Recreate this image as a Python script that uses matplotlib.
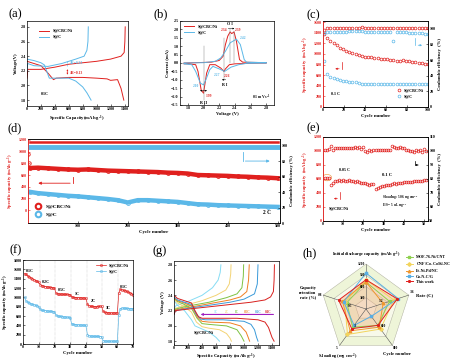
import matplotlib
matplotlib.use("Agg")
import matplotlib.pyplot as plt
import numpy as np
from matplotlib.patches import Ellipse, Polygon

# ===== data
# (a) charge/discharge profiles at 0.1 C
a_red_dis_x = [0, 100, 200, 300, 380, 420, 600, 800, 1000, 1150, 1200, 1300, 1350, 1390]
a_red_dis_y = [2.33, 2.3, 2.27, 2.17, 2.08, 2.1, 2.11, 2.11, 2.1, 2.09, 2.07, 2.08, 1.96, 1.8]
a_red_chg_x = [0, 10, 200, 400, 600, 800, 1000, 1200, 1350, 1395, 1405, 1410]
a_red_chg_y = [2.1, 2.22, 2.22, 2.25, 2.29, 2.31, 2.33, 2.36, 2.4, 2.45, 2.6, 2.8]
a_blue_dis_x = [0, 100, 200, 250, 320, 400, 600, 700, 800, 860, 920]
a_blue_dis_y = [2.36, 2.34, 2.31, 2.28, 2.1, 2.1, 2.1, 2.06, 1.98, 1.9, 1.8]
a_blue_chg_x = [0, 10, 100, 300, 500, 700, 820, 860, 875, 880]
a_blue_chg_y = [2.2, 2.3, 2.27, 2.26, 2.3, 2.36, 2.4, 2.48, 2.6, 2.8]

# (b) CV curves
b_red_v = [2.8, 2.6, 2.4, 2.33, 2.28, 2.26, 2.22, 2.15, 2.08, 2.04, 2.0, 1.97, 1.93, 1.9, 1.8, 1.75,
           1.75, 1.9, 2.1, 2.2, 2.25, 2.28, 2.31, 2.34, 2.36, 2.39, 2.42, 2.46, 2.5, 2.8]
b_red_i = [0.0, -0.02, -0.05, -0.1, -0.35, -0.5, -0.3, -0.1, -0.1, -0.6, -1.8, -1.6, -0.5, -0.1, -0.05, -0.05,
           0.0, 0.02, 0.05, 0.15, 0.4, 1.1, 1.6, 1.85, 1.75, 1.85, 1.3, 0.2, 0.05, 0.02]
b_blue_v = [2.8, 2.55, 2.45, 2.35, 2.27, 2.2, 2.12, 2.08, 2.03, 2.0, 1.96, 1.9, 1.85, 1.75,
            1.75, 2.0, 2.15, 2.22, 2.28, 2.34, 2.42, 2.47, 2.52, 2.55, 2.8]
b_blue_i = [0.0, -0.02, -0.1, -0.25, -0.5, -0.35, -0.2, -0.4, -1.0, -1.3, -1.2, -0.5, -0.1, -0.05,
            0.0, 0.02, 0.1, 0.3, 0.7, 1.2, 1.42, 1.1, 0.2, 0.05, 0.02]

# (c) cycling at 0.1 C
c_cycles = [1, 4, 7, 10, 13, 16, 19, 22, 25, 28, 31, 34, 37, 40, 43, 46, 49, 52, 55, 58, 61, 64, 67,
            70, 73, 76, 79, 82, 85, 88, 91, 94, 97, 100]
c_red_cap = [1380, 1300, 1250, 1200, 1160, 1120, 1090, 1060, 1040, 1010, 990, 975, 960, 950, 945, 935,
             925, 920, 910, 905, 895, 885, 880, 875, 870, 880, 875, 865, 855, 845, 835, 825, 815, 805]
c_blue_cap = [870, 620, 570, 540, 520, 500, 490, 485, 480, 475, 470, 455, 430, 425, 425, 425, 430, 430,
              430, 430, 430, 432, 432, 432, 430, 432, 432, 432, 430, 430, 430, 430, 430, 430]
c_red_ce = [99, 101, 101, 101.5, 101, 101, 101.5, 101, 101, 101, 101, 101.5, 102, 101, 101, 101, 101,
            101, 101, 101, 101, 101, 101, 101, 101, 101, 101, 101, 101, 101, 101, 101, 101, 101]
c_blue_ce = [95, 96, 96.5, 96.5, 96.5, 96.5, 96.5, 96.5, 97, 97, 97, 97, 97, 96.5, 96.5, 96.5, 96.5,
             96, 96, 96, 96, 96, 84, 96, 96, 95.5, 95.5, 95, 95, 95, 94.5, 94.5, 94, 94]

# (d) long cycling at 2 C
d_cycles = [5, 20, 40, 60, 80, 100, 120, 140, 160, 180, 200, 220, 240, 260, 280, 300, 320, 340, 360,
            380, 400, 420, 440, 460, 480, 500]
d_red_cap = [720, 725, 715, 705, 695, 690, 695, 685, 675, 670, 665, 660, 655, 650, 640, 635, 625, 600,
             595, 590, 585, 575, 570, 560, 555, 545]
d_blue_cap = [310, 290, 275, 260, 245, 235, 220, 205, 190, 170, 130, 170, 170, 160, 150, 140, 120, 100,
              95, 85, 80, 75, 70, 65, 60, 55]
d_red_ce = [104.5] * 26
d_blue_ce = [98.5] * 26
d_first_cycles = [1, 2]
d_first_cap = [960, 800]

# (e) high loading cycling
e_cycles = list(range(1, 52))
e_cap = [620, 615, 612, 520, 550, 570, 575, 580, 575, 580, 578, 575, 580, 570, 575, 560, 565, 555, 545,
         550, 540, 530, 520, 525, 530, 460, 470, 490, 495, 500, 510, 515, 520, 530, 540, 535, 540, 545,
         550, 555, 560, 560, 555, 560, 565, 570, 570, 575, 575, 580, 580]
e_ce = [101, 101, 101.5, 103.5, 101, 102, 102, 102, 102.5, 102, 102.5, 102, 102, 102.5, 102, 103, 102,
        103, 101.5, 103, 100, 99, 101, 100, 101, 101, 100.5, 101, 100.5, 101, 101, 101, 101, 103.5, 103,
        102, 102.5, 103, 102.5, 102, 101, 101, 100, 100, 99.5, 101, 100, 101, 99, 101.5, 100]

# (f) rate performance
f_cycles = list(range(1, 71))
f_red = [1510, 1490, 1460, 1440, 1420, 1400, 1380, 1360, 1340, 1320,
         1270, 1250, 1240, 1230, 1225, 1220, 1215, 1210, 1205, 1200,
         1090, 1075, 1070, 1070, 1068, 1065, 1065, 1063, 1060, 1060,
         1010, 1000, 995, 995, 990, 990, 988, 985, 985, 980,
         850, 820, 810, 805, 800, 800, 800, 805, 810, 810,
         700, 680, 670, 670, 665, 665, 665, 665, 665, 665,
         1100, 1170, 1160, 1150, 1140, 1130, 1110, 1100, 1080, 1060]
f_blue = [1000, 920, 900, 880, 860, 850, 840, 830, 820, 800,
          740, 720, 720, 715, 710, 705, 700, 700, 695, 690,
          620, 600, 595, 590, 585, 580, 578, 575, 570, 565,
          430, 420, 415, 412, 410, 408, 405, 405, 402, 400,
          200, 175, 170, 168, 165, 165, 163, 162, 160, 160,
          70, 65, 62, 60, 60, 60, 60, 60, 60, 60,
          620, 760, 770, 770, 765, 765, 760, 760, 760, 755]
f_rate_labels = ["0.1C", "0.2C", "0.5C", "1C", "2C", "3C", "0.1C"]

# (g) profiles at different rates
g_rates = ["3C", "2C", "1C", "0.5C", "0.2C", "0.1C"]
g_dis_x = [[0, 50, 150, 250, 300, 400, 500, 600, 650],
           [0, 50, 150, 250, 320, 400, 500, 650, 750, 800, 820],
           [0, 50, 150, 250, 330, 400, 500, 750, 900, 960, 1000],
           [0, 50, 150, 250, 330, 400, 500, 800, 950, 1030, 1060, 1080],
           [0, 50, 150, 250, 320, 380, 450, 700, 1000, 1100, 1150, 1180, 1200],
           [0, 50, 150, 250, 300, 350, 400, 600, 900, 1200, 1300, 1350, 1400, 1430]]
g_dis_y = [[2.33, 2.27, 2.2, 2.08, 2.0, 1.96, 1.92, 1.85, 1.8],
           [2.35, 2.3, 2.25, 2.18, 2.05, 1.99, 1.97, 1.95, 1.9, 1.84, 1.8],
           [2.36, 2.32, 2.28, 2.23, 2.1, 2.03, 2.02, 2.0, 1.95, 1.87, 1.8],
           [2.37, 2.33, 2.3, 2.26, 2.12, 2.06, 2.05, 2.04, 2.0, 1.92, 1.85, 1.8],
           [2.38, 2.34, 2.31, 2.28, 2.15, 2.09, 2.08, 2.08, 2.06, 2.02, 1.95, 1.85, 1.8],
           [2.4, 2.36, 2.33, 2.3, 2.2, 2.12, 2.1, 2.1, 2.1, 2.08, 2.05, 1.98, 1.85, 1.8]]
g_chg_x = [[0, 20, 200, 400, 550, 630, 660, 670],
           [0, 20, 200, 400, 600, 740, 790, 810, 815],
           [0, 20, 200, 500, 750, 900, 970, 990, 995],
           [0, 20, 200, 500, 800, 950, 1040, 1065, 1075],
           [0, 20, 200, 500, 800, 1000, 1150, 1190, 1200],
           [0, 20, 200, 500, 800, 1100, 1300, 1380, 1420, 1430, 1435]]
g_chg_y = [[2.2, 2.26, 2.32, 2.4, 2.5, 2.6, 2.7, 2.8],
           [2.18, 2.23, 2.28, 2.33, 2.4, 2.47, 2.55, 2.68, 2.8],
           [2.17, 2.22, 2.26, 2.31, 2.37, 2.42, 2.5, 2.65, 2.8],
           [2.16, 2.21, 2.24, 2.29, 2.34, 2.38, 2.45, 2.6, 2.8],
           [2.15, 2.2, 2.23, 2.27, 2.31, 2.35, 2.42, 2.55, 2.8],
           [2.15, 2.2, 2.22, 2.25, 2.28, 2.31, 2.34, 2.38, 2.45, 2.6, 2.8]]

# (h) radar comparison (values scaled to the outer ring)
h_axes_names = ["Initial discharge capacity (mAh g$^{-1}$)", "Rate (C)", "Cycle number",
                "S-loading (mg cm$^{-2}$)", "Capacity\nretention\nrate (%)"]
h_names = ["MOF-76-Ni/CNT", "CNF/Co-Co$_3$S$_4$-NC", "Fe-Ni-Pd/NC", "Co-N-C/G", "This work"]
h_values = [[0.6, 0.55, 0.45, 0.5, 0.45],
            [0.65, 0.65, 0.55, 0.7, 0.5],
            [0.6, 0.4, 0.5, 0.6, 0.55],
            [0.8, 0.75, 0.2, 0.45, 0.52],
            [0.65, 0.73, 0.45, 0.54, 0.64]]

RED = "#e0201e"
BLUE = "#5bb8e8"
W, H = 454, 364

plt.rcParams["font.family"] = ["Liberation Serif", "DejaVu Serif"]
plt.rcParams["font.weight"] = "bold"
plt.rcParams["axes.labelweight"] = "bold"
plt.rcParams["mathtext.fontset"] = "custom"
plt.rcParams["mathtext.rm"] = "Liberation Serif:bold"
plt.rcParams["mathtext.bf"] = "Liberation Serif:bold"
plt.rcParams["mathtext.it"] = "Liberation Serif:italic:bold"
plt.rcParams["axes.linewidth"] = 0.5

fig = plt.figure(figsize=(W / 100, H / 100), dpi=100)


def px_axes(x0, y0, x1, y1):
    return fig.add_axes([x0 / W, 1 - y1 / H, (x1 - x0) / W, (y1 - y0) / H])


def style(ax, color=None):
    ax.tick_params(direction="in", length=1.5, width=0.4, labelsize=3, pad=1)
    if color:
        ax.tick_params(axis="y", colors=color)
        ax.spines["left"].set_color(color)


def panel(label, x, y):
    fig.text(x / W, 1 - y / H, label, fontsize=9, fontweight="normal", ha="center", va="center")


# ===== (a)
ax = px_axes(27, 21, 128, 106)
ax.plot(a_red_dis_x, a_red_dis_y, color=RED, lw=0.7, label="S@CBC/Ni")
ax.plot(a_red_chg_x, a_red_chg_y, color=RED, lw=0.7)
ax.plot(a_blue_dis_x, a_blue_dis_y, color=BLUE, lw=0.7, label="S@C")
ax.plot(a_blue_chg_x, a_blue_chg_y, color=BLUE, lw=0.7)
ax.annotate("", xy=(580, 2.11), xytext=(580, 2.26),
            arrowprops=dict(arrowstyle="<|-|>", color=RED, lw=0.4, mutation_scale=2))
ax.plot([570, 570], [2.26, 2.33], color=BLUE, lw=0.4, ls="--")
ax.text(610, 2.17, "ΔE=0.13", color=RED, fontsize=2.6, va="center")
ax.text(610, 2.31, "ΔE=0.23", color=BLUE, fontsize=2.6, va="center")
ax.text(200, 1.87, "0.1C", fontsize=3)
ax.set_xlim(0, 1450)
ax.set_ylim(1.72, 2.88)
ax.set_xticks([0, 200, 400, 600, 800, 1000, 1200, 1400])
ax.set_yticks([1.8, 2.0, 2.2, 2.4, 2.6, 2.8])
ax.set_xlabel("Specific Capacity(mAh g$^{-1}$)", fontsize=3.3, labelpad=1.5)
ax.set_ylabel("Voltage(V)", fontsize=3.3, labelpad=1.5)
ax.legend(loc="upper left", fontsize=3, frameon=False, handlelength=2.5, bbox_to_anchor=(0.08, 0.95))
style(ax)
panel("(a)", 15, 14)

# ===== (b)
ax = px_axes(180, 21, 274, 105)
ax.plot(b_red_v, b_red_i, color=RED, lw=0.7, label="S@CBC/Ni")
ax.plot(b_blue_v, b_blue_i, color=BLUE, lw=0.7, label="S@C")
for xv, y0, y1 in [(2.34, 0, 2.0), (2.39, 0, 1.9), (2.0, -2.2, 1.0), (2.26, -1.0, 1.5)]:
    ax.plot([xv, xv], [y0, y1], color="#888888", lw=0.35)
ax.annotate("", xy=(2.43, 2.05), xytext=(2.28, 2.05),
            arrowprops=dict(arrowstyle="-|>", color="k", lw=0.35, mutation_scale=2))
ax.annotate("", xy=(2.2, -1.0), xytext=(2.32, -1.0),
            arrowprops=dict(arrowstyle="-|>", color="k", lw=0.35, mutation_scale=2))
ax.annotate("", xy=(1.92, -1.65), xytext=(2.08, -1.65),
            arrowprops=dict(arrowstyle="<|-|>", color="k", lw=0.35, mutation_scale=2))
ax.text(2.34, 2.25, "O I", fontsize=3, ha="center")
ax.text(2.31, 1.88, "2.34", fontsize=2.6, color=RED, ha="right")
ax.text(2.4, 1.88, "2.39", fontsize=2.6, color=RED)
ax.text(2.47, 1.45, "2.42", fontsize=2.6, color=BLUE)
ax.text(2.27, -1.35, "R I", fontsize=3, ha="center")
ax.text(2.22, -0.75, "2.27", fontsize=2.6, color=BLUE, ha="right")
ax.text(2.26, -0.85, "2.26", fontsize=2.6, color=RED)
ax.text(2.0, -2.42, "R II", fontsize=3, ha="center")
ax.text(1.94, -1.45, "2.00", fontsize=2.6, color=BLUE, ha="right")
ax.text(2.03, -2.05, "1.99", fontsize=2.6, color=RED)
ax.text(2.86, -2.15, "0.1 mV s$^{-1}$", fontsize=2.8, ha="right")
ax.set_xlim(1.7, 2.9)
ax.set_ylim(-2.5, 2.5)
ax.set_xticks([1.8, 2.0, 2.2, 2.4, 2.6, 2.8])
ax.set_yticks(np.arange(-2.5, 2.51, 0.5))
ax.set_xlabel("Voltage (V)", fontsize=3.3, labelpad=1.5)
ax.set_ylabel("Current (mA)", fontsize=3.3, labelpad=1.5)
ax.legend(loc="upper left", fontsize=3, frameon=False, handlelength=2.5)
style(ax)
panel("(b)", 161, 14)

# ===== (c)
ax = px_axes(323, 21, 428, 107)
ax2 = ax.twinx()
ax.plot(c_cycles, c_red_cap, "o", mfc="none", mec=RED, ms=2, mew=0.5, label="S@CBC/Ni")
ax.plot(c_cycles, c_blue_cap, "o", mfc="none", mec=BLUE, ms=2, mew=0.5, label="S@C")
ax2.plot(c_cycles, c_red_ce, "o", mfc="none", mec=RED, ms=2, mew=0.5)
ax2.plot(c_cycles, c_blue_ce, "o", mfc="none", mec=BLUE, ms=2, mew=0.5)
ax.plot([18, 18], [850, 720], color=RED, lw=0.5)
ax.annotate("", xy=(9, 720), xytext=(18, 720),
            arrowprops=dict(arrowstyle="-|>", color=RED, lw=0.5, mutation_scale=2.5))
ax2.plot([88, 88], [88, 79], color=BLUE, lw=0.5)
ax2.annotate("", xy=(97, 79), xytext=(88, 79),
             arrowprops=dict(arrowstyle="-|>", color=BLUE, lw=0.5, mutation_scale=2.5))
ax.text(8, 230, "0.1 C", fontsize=3)
ax.set_xlim(0, 100)
ax.set_ylim(0, 1620)
ax2.set_ylim(0, 110)
ax.set_xticks([0, 20, 40, 60, 80, 100])
ax.set_yticks(range(0, 1601, 200))
ax2.set_yticks(range(0, 101, 20))
ax.set_xlabel("Cycle number", fontsize=3.5, labelpad=1.5)
ax.set_ylabel("Specific capacity  (mAh g$^{-1}$)", fontsize=3.3, color=RED, labelpad=1.5)
ax2.set_ylabel("Coulombic efficiency  (%)", fontsize=3.3, labelpad=2)
ax.legend(loc="lower right", fontsize=3, frameon=False, handlelength=1, bbox_to_anchor=(1.0, 0.05))
style(ax, RED)
ax2.tick_params(direction="in", length=1.5, width=0.4, labelsize=3, pad=1)
ax2.spines["left"].set_color(RED)
panel("(c)", 313, 15)

# ===== (d)
ax = px_axes(28, 139, 280, 223)
ax2 = ax.twinx()
ax.plot(d_cycles, d_red_cap, "-o", color=RED, lw=3.2, mfc="none", mec=RED, ms=2.8, mew=0.6,
        label="S@CBC/Ni")
ax.plot(d_first_cycles, d_first_cap, "o", mfc="none", mec=RED, ms=2.5, mew=0.6)
ax.plot(d_cycles, d_blue_cap, "-o", color=BLUE, lw=3.2, mfc="none", mec=BLUE, ms=2.8, mew=0.6,
        label="S@C")
ax2.plot(d_cycles, d_red_ce, "-", color=RED, lw=1.8)
ax2.plot(d_cycles, d_blue_ce, "-", color=BLUE, lw=3.5)
ax.plot([90, 90], [570, 460], color=RED, lw=0.6)
ax.annotate("", xy=(15, 460), xytext=(90, 460),
            arrowprops=dict(arrowstyle="-|>", color=RED, lw=0.6, mutation_scale=4))
ax2.plot([430, 430], [92, 80], color=BLUE, lw=0.6)
ax2.annotate("", xy=(490, 80), xytext=(430, 80),
             arrowprops=dict(arrowstyle="-|>", color=BLUE, lw=0.6, mutation_scale=4))
ax.text(488, -60, "2 C", fontsize=4, ha="right")
ax.set_xlim(0, 505)
ax.set_ylim(-220, 1215)
ax2.set_ylim(0, 108.5)
ax.set_xticks([100, 200, 300, 400, 500])
ax.set_yticks(range(0, 1201, 200))
ax2.set_yticks(range(0, 101, 20))
ax.set_xlabel("Cycle number", fontsize=3.5, labelpad=1)
ax.set_ylabel("Specific capacity (mAh g$^{-1}$)", fontsize=3.3, color=RED, labelpad=1.5)
ax2.set_ylabel("Coulombic efficiency (%)", fontsize=3.3, labelpad=2)
leg = ax.legend(loc="lower left", fontsize=3.8, frameon=False, handlelength=1.2,
                bbox_to_anchor=(0.01, 0.02))
for line in leg.get_lines():
    line.set_linestyle("none")
    line.set_markersize(4)
    line.set_markeredgewidth(1.5)
style(ax, RED)
ax2.tick_params(direction="in", length=1.5, width=0.4, labelsize=3, pad=1)
ax2.spines["left"].set_color(RED)
panel("(d)", 15, 128)

# ===== (e)
ax = px_axes(323, 137, 428, 221)
ax2 = ax.twinx()
ax.plot(e_cycles, e_cap, "o", mfc="none", mec=RED, ms=2, mew=0.5)
ax2.plot(e_cycles, e_ce, "o", mfc="none", mec=RED, ms=2, mew=0.5)
ax.add_patch(Ellipse((2, 620), 4.5, 90, fill=False, ec="#f0a050", lw=0.5))
ax.plot([8.5, 8.5], [414, 320], color=RED, lw=0.5)
ax.annotate("", xy=(4, 320), xytext=(8.5, 320),
            arrowprops=dict(arrowstyle="-|>", color=RED, lw=0.5, mutation_scale=2.5))
ax2.plot([45.6, 45.6], [93, 90], color="k", lw=0.5)
ax2.annotate("", xy=(48.5, 90), xytext=(45.6, 90),
             arrowprops=dict(arrowstyle="-|>", color="k", lw=0.5, mutation_scale=2.5))
ax.text(8, 720, "0.05 C", fontsize=3)
ax.text(29, 640, "0.1 C", fontsize=3.3)
ax.text(29, 310, "S loading: 5.06 mg cm$^{-2}$", fontsize=2.4)
ax.text(29, 195, "E/S = 5 uL mg$^{-1}$", fontsize=2.4)
ax.text(3, 150, "S@CBC/Ni", fontsize=3)
ax.set_xlim(0, 52)
ax.set_ylim(0, 1200)
ax2.set_ylim(50, 110)
ax.set_xticks(range(0, 51, 10))
ax.set_yticks(range(0, 1201, 200))
ax2.set_yticks(range(50, 111, 10))
ax.set_xlabel("Cycle number", fontsize=3.5, labelpad=1.5)
ax.set_ylabel("Specific capacity  (mAh g$^{-1}$)", fontsize=3.3, color=RED, labelpad=1.5)
ax2.set_ylabel("Coulombic efficiency  (%)", fontsize=3.3, labelpad=2)
style(ax, RED)
ax2.tick_params(direction="in", length=1.5, width=0.4, labelsize=3, pad=1)
ax2.spines["left"].set_color(RED)
panel("(e)", 313, 128)

# ===== (f)
ax = px_axes(23, 260, 133, 344)
ax.plot(f_cycles, f_red, "-o", color=RED, lw=0.5, ms=1.6, mfc="none", mew=0.4, label="S@CBC/Ni")
ax.plot(f_cycles, f_blue, "-o", color=BLUE, lw=0.5, ms=1.6, mfc="none", mew=0.4, label="S@C")
for k in range(1, 7):
    ax.axvline(10 * k + 0.5, color="#aaaaaa", lw=0.35, ls=":")
for k, lab in enumerate(f_rate_labels):
    seg = f_red[10 * k:10 * k + 10]
    ax.text(10 * k + 4.5, max(seg) + 40, lab, fontsize=3, ha="center")
ax.set_xlim(0, 70)
ax.set_ylim(0, 1800)
ax.set_xticks(range(0, 71, 10))
ax.set_yticks(range(0, 1801, 200))
ax.set_xlabel("Cycle number", fontsize=3.5, labelpad=1.5)
ax.set_ylabel("Specific capacity (mAh g$^{-1}$)", fontsize=3.3, labelpad=1.5)
ax.legend(loc="upper right", fontsize=3, frameon=False, handlelength=2.5)
style(ax)
panel("(f)", 16, 250)

# ===== (g)
ax = px_axes(174, 261, 279, 345)
g_colors = ["#86dcf4", "#f3d374", "#7dc242", "#f07f22", "#3a9ad9", "#d8201e"]
for k in range(len(g_rates)):
    ax.plot(g_dis_x[k], g_dis_y[k], color=g_colors[k], lw=0.7)
    ax.plot(g_chg_x[k], g_chg_y[k], color=g_colors[k], lw=0.7)
ax.annotate("", xy=(340, 2.15), xytext=(1460, 2.15),
            arrowprops=dict(arrowstyle="-|>", color="#a020c0", lw=0.8, mutation_scale=3))
for k, lab in enumerate(g_rates):
    ax.text(600 + k * 150, 2.17, lab, fontsize=2.4, color=g_colors[k], ha="center")
ax.text(280, 1.9, "S@CBC/Ni", fontsize=3)
ax.set_xlim(0, 1500)
ax.set_ylim(1.75, 2.85)
ax.set_xticks(range(0, 1401, 200))
ax.set_yticks([1.8, 2.0, 2.2, 2.4, 2.6, 2.8])
ax.set_xlabel("Specific Capacity (mAh g$^{-1}$)", fontsize=3.5, labelpad=0.8)
ax.set_ylabel("Voltage (V)", fontsize=3.3, labelpad=1.5)
style(ax)
panel("(g)", 160, 251)

# ===== (h) radar chart
ax = px_axes(300, 255, 454, 364)
theta = np.deg2rad([90, 18, -54, -126, 162])
cx, cy = np.cos(theta), np.sin(theta)
ring_colors = ["#eef5d8", "#f7f9ea", "#eef5d8", "#f7f9ea"]
for ring, fc in zip([1.0, 0.75, 0.5, 0.25], ring_colors):
    ax.add_patch(Polygon(np.c_[ring * cx, ring * cy], closed=True, fc=fc, ec="#b0b0a0", lw=0.35))
for k in range(5):
    ax.plot([0, cx[k]], [0, cy[k]], color="#555555", lw=0.4)
h_colors = ["#8fd14f", "#f2d45c", "#f0962e", "#59aee3", "#e0201e"]
h_markers = ["s", "D", "^", "s", "*"]
for vals, name, col, mk in zip(h_values, h_names, h_colors, h_markers):
    r = np.array(vals + vals[:1])
    xs = r * np.append(cx, cx[0])
    ys = r * np.append(cy, cy[0])
    if name == "This work":
        ax.fill(xs, ys, color="#f4a57a", alpha=0.35, lw=0)
    ax.plot(xs, ys, color=col, lw=0.7, marker=mk, ms=1.8, label=name)
ax.text(0, 1.1, h_axes_names[0], fontsize=3.2, ha="center", va="bottom")
ax.text(cx[1] + 0.15, cy[1], h_axes_names[1], fontsize=3.3, ha="left", va="center")
ax.text(cx[2] + 0.1, cy[2] - 0.15, h_axes_names[2], fontsize=3.3, ha="center", va="top")
ax.text(cx[3] - 0.05, cy[3] - 0.15, h_axes_names[3], fontsize=3.2, ha="center", va="top")
ax.text(cx[4] - 0.15, cy[4] + 0.05, h_axes_names[4], fontsize=3.2, ha="right", va="center",
        multialignment="center")
for rr, lab in [(1.0, "1200"), (0.75, "900"), (0.5, "600"), (0.25, "300")]:
    ax.text(-0.02, rr, lab, fontsize=2.6, ha="right", va="center")
ax.text(cx[1] + 0.02, cy[1] + 0.05, "3.6", fontsize=2.6)
ax.text(0.42 * cx[1] - 0.02, 0.42 * cy[1] + 0.02, "1.2", fontsize=2.6, ha="right")
ax.text(cx[2] + 0.02, cy[2] - 0.02, "800", fontsize=2.6, va="top")
ax.text(0.5 * cx[2] + 0.03, 0.5 * cy[2], "600", fontsize=2.6)
ax.text(cx[3] - 0.04, cy[3] - 0.02, "5", fontsize=2.6, ha="right", va="top")
ax.text(0.5 * cx[3] + 0.03, 0.5 * cy[3], "3", fontsize=2.6)
ax.text(cx[4] - 0.03, cy[4] - 0.02, "0.8", fontsize=2.6, ha="right")
ax.text(0.45 * cx[4] + 0.02, 0.45 * cy[4] - 0.1, "0.5", fontsize=2.6)
ax.set_xlim(-1.467, 1.956)
ax.set_ylim(-1.222, 1.2)
ax.set_aspect("equal")
ax.axis("off")
ax.legend(loc="upper right", fontsize=3, frameon=False, handlelength=1.5, borderaxespad=0.2,
          bbox_to_anchor=(1.0, 1.02), labelspacing=0.3)
panel("(h)", 310, 253)

fig.savefig("out.png", dpi=100)
